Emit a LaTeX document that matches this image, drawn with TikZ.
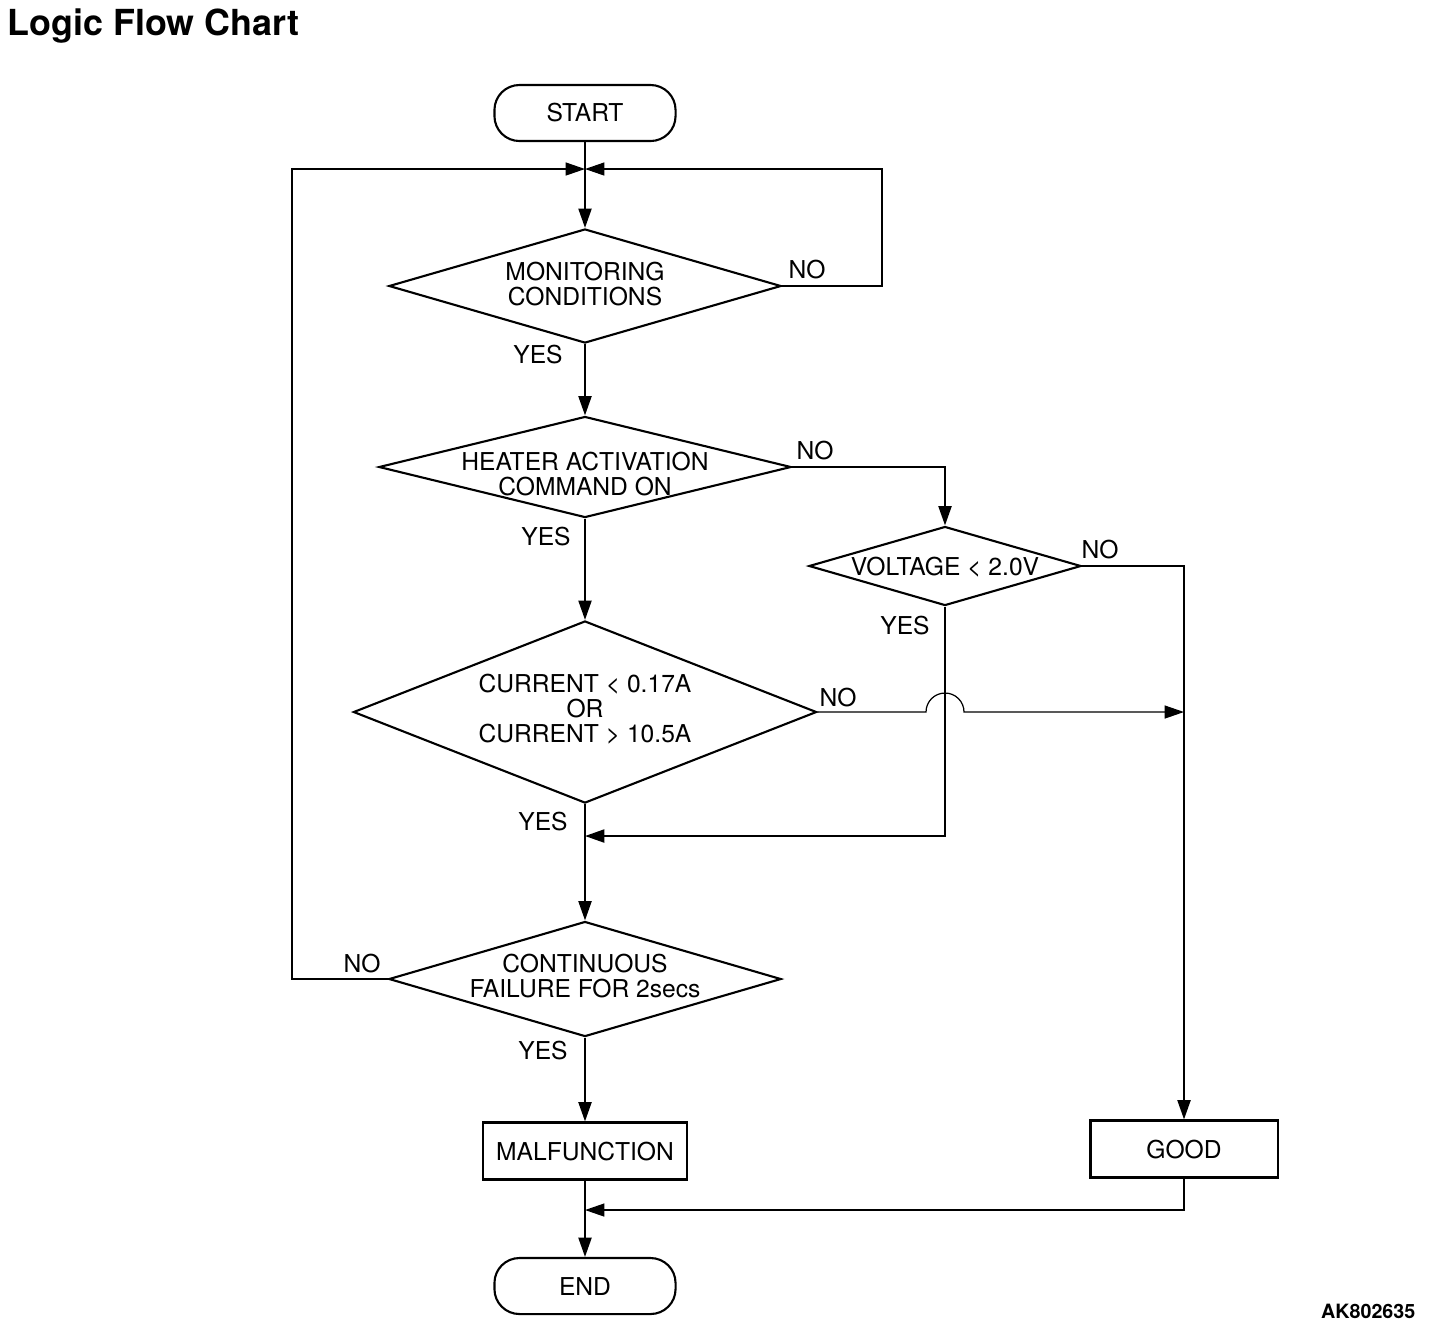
\documentclass[tikz,border=0pt]{standalone}
\usepackage{fontspec}
\setmainfont{TeX Gyre Heros}
\usetikzlibrary{shapes.geometric, arrows.meta, positioning, calc}

\tikzset{
  txt/.style={font=\fontsize{7}{7.1}\selectfont, align=center},
  term/.style={draw, line width=0.6pt, rounded corners=0.25cm, minimum width=1.81cm, minimum height=0.56cm, txt},
  proc/.style={draw, line width=0.6pt, minimum height=0.57cm, txt},
  dec/.style={draw, diamond, line width=0.6pt, inner sep=0pt},
  lbl/.style={txt, inner sep=0pt},
  tip/.style={-{Triangle[length=5.5pt, width=3.7pt]}},
  flow/.style={line width=0.6pt, tip},
  back/.style={line width=0.35pt, tip},
}

\begin{document}
\begin{tikzpicture}[x=0.01cm, y=-0.01cm]
    \useasboundingbox (0,0) rectangle (1440,1332);

    % Headings
    \node[anchor=base west, inner sep=0pt, font=\bfseries\fontsize{10.2}{12}\selectfont] (title) at (7,35) {Logic Flow Chart};
    \node[anchor=base east, inner sep=0pt, font=\bfseries\fontsize{5.6}{7}\selectfont] (code) at (1416,1318) {AK802635};

    % Define blocks
    \node[term] (start) at (585,113) {START};
    \coordinate (join) at (585,169);
    \node[dec, minimum width=3.92cm, minimum height=1.14cm,
          label={[txt, yshift=0.5pt]center:{MONITORING\\CONDITIONS}}] (mon) at (585,286) {};
    \node[dec, minimum width=4.12cm, minimum height=1.01cm,
          label={[txt, yshift=-1.9pt]center:{HEATER ACTIVATION\\COMMAND ON}}] (heat) at (585,467) {};
    \node[dec, minimum width=2.72cm, minimum height=0.79cm,
          label={[txt, yshift=-0.4pt]center:{VOLTAGE \textless{} 2.0V}}] (volt) at (945,566) {};
    \node[dec, minimum width=4.63cm, minimum height=1.82cm,
          label={[txt, yshift=0.8pt]center:{CURRENT \textless{} 0.17A\\OR\\CURRENT \textgreater{} 10.5A}}] (cur) at (585,712) {};
    \coordinate (merge) at (585,836);
    \node[dec, minimum width=3.92cm, minimum height=1.15cm,
          label={[txt, yshift=0.9pt]center:{CONTINUOUS\\FAILURE FOR 2secs}}] (cont) at (585,979) {};
    \node[proc, minimum width=2.04cm] (mal) at (585,1151) {MALFUNCTION};
    \node[proc, minimum width=1.87cm] (good) at (1184,1149) {GOOD};
    \coordinate (fin) at (585,1210);
    \node[term] (end) at (585,1286) {END};

    % Corner points of the loops
    \coordinate (rloop) at (882,286);
    \coordinate (lloop) at (292,979);

    % Define connections
    \draw[line width=0.6pt] (start) -- (join);
    \draw[flow] (join) -- (mon.north);
    \draw[back] (mon.east) -- (rloop) |- (join);
    \draw[back] (cont.west) -- (lloop) |- (join);
    \draw[flow] (mon.south) -- (heat.north);
    \draw[flow] (heat.east) -| (volt.north);
    \draw[flow] (heat.south) -- (cur.north);
    \draw[flow] (volt.east) -| (good.north);
    \draw[flow] (volt.south) |- (merge);
    \draw[back] (cur.east) -- ($(volt.south |- cur.east)+(-19,0)$)
        arc[start angle=180, end angle=360, radius=19] -- (good.north |- cur.east);
    \draw[flow] (cur.south) -- (cont.north);
    \draw[flow] (cont.south) -- (mal.north);
    \draw[flow] (mal.south) -- (end.north);
    \draw[back] (good.south) |- (fin);

    % Branch labels
    \node[lbl] (no1) at (807,270) {NO};
    \node[lbl] (yes1) at (538,355) {YES};
    \node[lbl] (no2) at (815,451) {NO};
    \node[lbl] (yes2) at (546,537) {YES};
    \node[lbl] (no3) at (1100,550) {NO};
    \node[lbl] (yes3) at (905,626) {YES};
    \node[lbl] (no4) at (838,697) {NO};
    \node[lbl] (yes4) at (543,821) {YES};
    \node[lbl] (no5) at (362,963) {NO};
    \node[lbl] (yes5) at (543,1050) {YES};
\end{tikzpicture}
\end{document}
